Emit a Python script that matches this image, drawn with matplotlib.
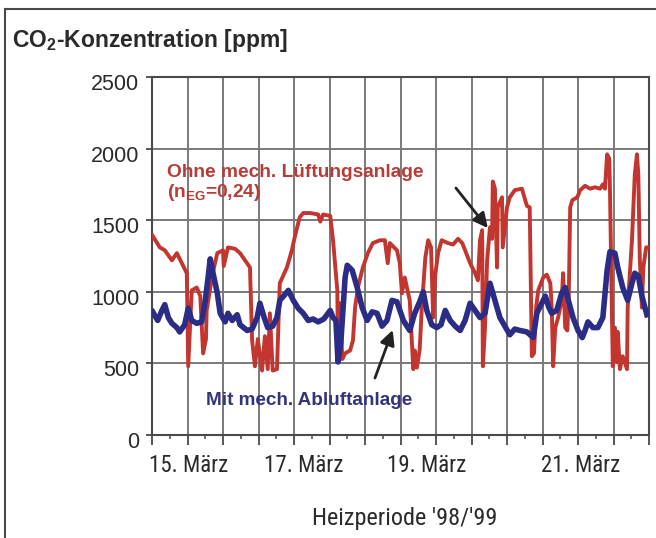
#!/usr/bin/env python3
"""
CO2-Konzentration, Heizperiode '98/'99 (14.-21. Maerz).
Two measured series: without and with mechanical exhaust ventilation.
"""
import numpy as np
import matplotlib
matplotlib.use('Agg')
import matplotlib.pyplot as plt
from matplotlib.transforms import ScaledTranslation

plt.rcParams['font.family'] = 'Liberation Sans'
plt.rcParams['mathtext.fontset'] = 'custom'
plt.rcParams['mathtext.rm'] = 'Liberation Sans'
plt.rcParams['mathtext.bf'] = 'Liberation Sans:bold'

# time in days from start of plot, values in ppm
t_ohne = [
    0.01, 0.11, 0.18, 0.28, 0.35, 0.42, 0.49, 0.51, 0.56, 0.63,
    0.68, 0.72, 0.76, 0.77, 0.85, 0.92, 1.00, 1.01, 1.07, 1.17,
    1.24, 1.31, 1.38, 1.41, 1.45, 1.49, 1.55, 1.59, 1.63, 1.66,
    1.70, 1.76, 1.80, 1.90, 1.97, 2.01, 2.08, 2.13, 2.23, 2.34,
    2.37, 2.41, 2.51, 2.55, 2.61, 2.62, 2.65, 2.68, 2.72, 2.79,
    2.83, 2.86, 2.90, 2.97, 3.04, 3.11, 3.21, 3.28, 3.32, 3.35,
    3.45, 3.49, 3.52, 3.56, 3.63, 3.68, 3.70, 3.73, 3.77, 3.80,
    3.85, 3.89, 3.93, 3.96, 3.99, 4.03, 4.08, 4.17, 4.24, 4.31,
    4.37, 4.41, 4.48, 4.55, 4.59, 4.62, 4.65, 4.66, 4.69, 4.72,
    4.76, 4.79, 4.80, 4.83, 4.86, 4.87, 4.93, 4.94, 5.00, 5.04,
    5.11, 5.21, 5.28, 5.32, 5.35, 5.38, 5.41, 5.44, 5.51, 5.56,
    5.61, 5.63, 5.65, 5.68, 5.72, 5.77, 5.79, 5.82, 5.85, 5.87,
    5.89, 5.92, 5.99, 6.03, 6.10, 6.17, 6.24, 6.31, 6.35, 6.38,
    6.41, 6.44, 6.45, 6.49, 6.52, 6.55, 6.56, 6.59, 6.63, 6.69,
    6.70, 6.76, 6.80, 6.83, 6.85, 6.87, 6.90, 6.92, 6.96, 7.00,
]
co2_ohne = [
    1390, 1310, 1290, 1220, 1270, 1200, 1130, 480, 1010, 1030,
    970, 570, 670, 870, 1120, 1270, 1290, 1180, 1310, 1300,
    1270, 1220, 1170, 660, 480, 670, 450, 690, 460, 850,
    450, 460, 1060, 1170, 1290, 1380, 1520, 1550, 1550, 1540,
    1490, 1540, 1530, 1360, 1010, 550, 920, 530, 570, 590,
    660, 890, 1030, 1170, 1270, 1340, 1360, 1360, 1200, 1340,
    1290, 1200, 990, 1100, 940, 460, 590, 470, 595, 890,
    1240, 1360, 1310, 820, 1120, 1270, 1360, 1340, 1330, 1370,
    1340, 1290, 1200, 1130, 1080, 1360, 1430, 480, 750, 1220,
    1450, 1370, 1770, 1720, 1170, 1590, 1660, 1310, 1590, 1660,
    1710, 1720, 1600, 1590, 550, 570, 890, 1010, 1100, 1120,
    1060, 890, 480, 750, 820, 940, 1130, 750, 730, 970,
    1590, 1640, 1660, 1710, 1740, 1720, 1730, 1720, 1750, 1720,
    1960, 1930, 1720, 480, 750, 510, 720, 460, 550, 460,
    890, 1360, 1820, 1960, 1820, 1240, 890, 1170, 1310, 1310,
]

t_mit = [
    0.01, 0.08, 0.14, 0.18, 0.23, 0.28, 0.35, 0.39, 0.46, 0.51,
    0.56, 0.63, 0.70, 0.75, 0.79, 0.82, 0.86, 0.92, 0.96, 1.03,
    1.07, 1.13, 1.20, 1.24, 1.34, 1.41, 1.48, 1.52, 1.58, 1.63,
    1.70, 1.76, 1.80, 1.87, 1.92, 1.99, 2.06, 2.13, 2.20, 2.27,
    2.34, 2.42, 2.51, 2.55, 2.59, 2.62, 2.66, 2.72, 2.75, 2.82,
    2.89, 2.96, 3.03, 3.10, 3.17, 3.24, 3.31, 3.38, 3.45, 3.54,
    3.63, 3.70, 3.77, 3.82, 3.87, 3.94, 4.01, 4.07, 4.13, 4.20,
    4.27, 4.34, 4.41, 4.48, 4.55, 4.62, 4.69, 4.76, 4.83, 4.90,
    4.97, 5.04, 5.11, 5.18, 5.28, 5.37, 5.42, 5.49, 5.54, 5.59,
    5.63, 5.70, 5.77, 5.82, 5.87, 5.93, 6.00, 6.06, 6.10, 6.14,
    6.21, 6.28, 6.35, 6.41, 6.45, 6.52, 6.56, 6.63, 6.70, 6.76,
    6.80, 6.85, 6.90, 6.97,
]
co2_mit = [
    860, 800, 870, 910, 820, 780, 750, 720, 770, 885,
    800, 780, 790, 940, 1100, 1230, 1130, 990, 850, 790,
    850, 800, 840, 770, 730, 740, 820, 920, 820, 750,
    760, 820, 940, 980, 1010, 940, 885, 850, 800, 810,
    790, 810, 870, 820, 800, 510, 650, 1100, 1185, 1150,
    1030, 890, 800, 860, 850, 760, 800, 940, 930, 800,
    730, 850, 930, 1000, 870, 770, 750, 770, 870, 800,
    760, 730, 800, 920, 870, 820, 850, 1060, 940, 820,
    760, 700, 740, 730, 720, 680, 850, 920, 970, 890,
    850, 870, 990, 1030, 930, 820, 730, 680, 730, 790,
    750, 750, 820, 1150, 1280, 1270, 1170, 1030, 940, 1060,
    1130, 1110, 970, 840,
]

date_labels = ['15. März', '17. März', '19. März', '21. März']
date_pos = [0.51, 2.13, 3.87, 6.03]

RED = '#c3362f'
BLUE = '#2b2c85'
GRID = '#7a7a7a'
DARK = '#2a2a2a'


def main():
    fig = plt.figure(figsize=(6.56, 5.38), dpi=100)
    ax = fig.add_axes([152 / 656, 1 - 435 / 538, 497 / 656, 358 / 538])

    ax.plot(t_ohne, co2_ohne, color=RED, lw=2.8, zorder=3)
    ax.plot(t_mit, co2_mit, color=BLUE, lw=4, zorder=4)

    ax.set_xlim(0, 7)
    ax.set_ylim(0, 2500)
    ax.set_xticks(np.arange(0, 7.01, 0.5))
    ax.set_xticks(np.arange(0, 7.01, 0.25), minor=True)
    ax.set_xticklabels([])
    ax.set_yticks(np.arange(0, 2501, 500))
    ax.grid(True, which='major', color=GRID, lw=1.4)
    ax.set_axisbelow(True)

    for s in ax.spines.values():
        s.set_color('#4a4a4a')
        s.set_linewidth(1.5)
    ax.tick_params(axis='x', which='major', direction='out', length=7, width=1.3, color='#4a4a4a')
    ax.tick_params(axis='x', which='minor', direction='out', length=3, width=1.1, color='#4a4a4a')
    ax.tick_params(axis='y', direction='out', length=4, width=1.3, color='#4a4a4a',
                   labelsize=15.5, labelcolor=DARK, pad=5)
    off = ScaledTranslation(0, -5 / 100, fig.dpi_scale_trans)
    for lab in ax.get_yticklabels():
        lab.set_transform(lab.get_transform() + off)

    cond = dict(family=['Roboto Condensed', 'Liberation Sans Narrow', 'Roboto'])
    for lab, pos in zip(date_labels, date_pos):
        ax.text(pos, -31 / 358, lab, transform=ax.get_xaxis_transform(),
                ha='center', va='center', fontsize=16.5, color=DARK, **cond)
    fig.text(405 / 656, 1 - 518 / 538, "Heizperiode '98/'99", ha='center', va='center',
             fontsize=17.5, color=DARK, **cond)

    fig.text(12 / 656, 1 - 40 / 538, r'CO$_\mathbf{2}$-Konzentration [ppm]',
             ha='left', va='center', fontsize=16.5, fontweight='bold', color=DARK)

    ax.text(0.21, 1802, 'Ohne mech. Lüftungsanlage', color='#b83c36',
            fontsize=13.8, fontweight='bold', va='baseline', zorder=6)
    ax.text(0.21, 1662, r'(n$_\mathbf{EG}$=0,24)', color='#b83c36',
            fontsize=13.8, fontweight='bold', va='baseline', zorder=6)
    ax.text(0.76, 210, 'Mit mech. Abluftanlage', color='#34347c',
            fontsize=13.6, fontweight='bold', va='baseline', zorder=6)

    arrow = dict(arrowstyle='-|>', color='#222222', lw=2, mutation_scale=22, shrinkA=0, shrinkB=0)
    ax.annotate('', xy=(4.73, 1445), xytext=(4.28, 1725), arrowprops=arrow, zorder=7)
    ax.annotate('', xy=(3.39, 733), xytext=(3.14, 398), arrowprops=arrow, zorder=7)

    # outer frame of the figure (top and left edge)
    fig.add_artist(plt.Line2D([5 / 656, 5 / 656], [0, 1 - 9 / 538], color='#4a4a4a', lw=1.5))
    fig.add_artist(plt.Line2D([5 / 656, 1], [1 - 9 / 538, 1 - 9 / 538], color='#4a4a4a', lw=1.5))

    fig.savefig('out.png', dpi=100)


if __name__ == '__main__':
    main()
